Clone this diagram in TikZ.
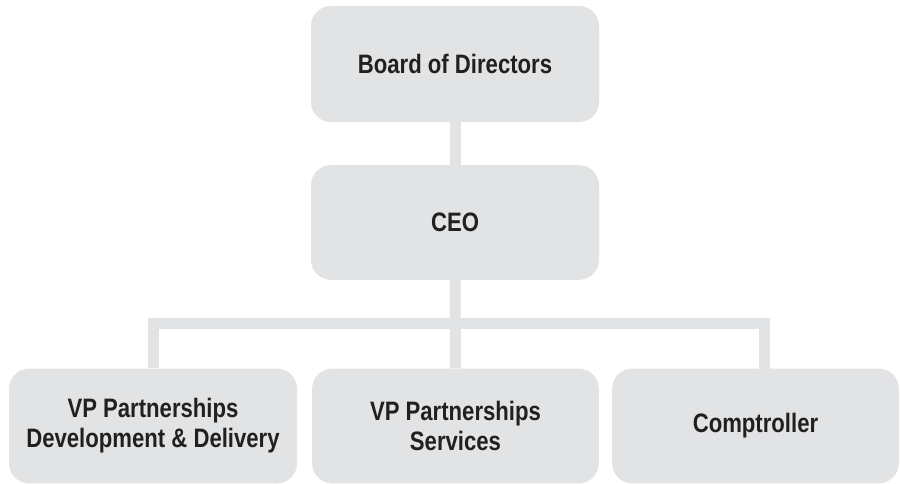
\documentclass[tikz,border=0pt]{standalone}
\usepackage{fontspec}
\setmainfont{Liberation Sans}[FakeStretch=0.83]
\definecolor{boxgray}{HTML}{E2E3E5}
\definecolor{txt}{HTML}{231F20}
\tikzset{
  orgbox/.style={rectangle, rounded corners=15pt, fill=boxgray, draw=none,
    minimum width=216pt, minimum height=86pt, inner sep=0pt, align=center,
    text=txt, font=\fontsize{20}{22.5}\selectfont\bfseries},
  link/.style={draw=boxgray, line width=8.25pt}
}
\begin{document}
\begin{tikzpicture}[x=0.75pt,y=-0.75pt]
\useasboundingbox (0,0) rectangle (900,483);
\node[orgbox, minimum height=87pt] (board) at (455,64) {Board of Directors};
\node[orgbox] (ceo) at (455,222.5) {CEO};
\node[orgbox, minimum height=86pt] (left) at (153,426) {VP Partnerships\\Development \& Delivery};
\node[orgbox, minimum width=215pt] (mid) at (455.5,426) {VP Partnerships\\Services};
\node[orgbox, minimum width=215pt] (right) at (755.5,426) {Comptroller};
\coordinate (bar) at (455,323);
\coordinate (rtop) at (764.5,369);
\draw[link] (board.south) -- (ceo.north);
\draw[link] (ceo.south) -- (mid.north);
\draw[link] (bar) -| (left.north);
\draw[link] (bar) -| (rtop);
\end{tikzpicture}
\end{document}
